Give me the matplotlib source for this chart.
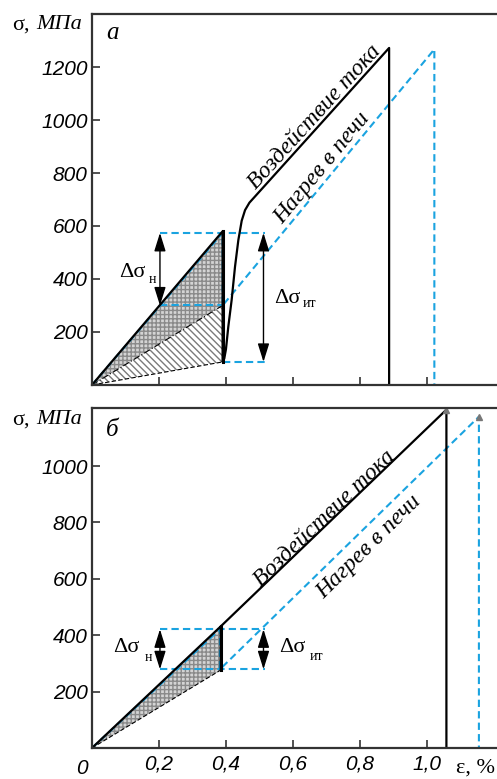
import numpy as np
import matplotlib.pyplot as plt

# --- panel a data ---
eps_cur_a = [0, 0.39, 0.39, 0.395, 0.40, 0.407, 0.417, 0.427, 0.437, 0.447, 0.457, 0.47, 0.887, 0.887]
sig_cur_a = [0, 580, 87, 100, 135, 220, 321, 446, 547, 620, 660, 688, 1272, 0]
eps_oven_a = [0, 0.39, 0.39, 1.022, 1.022]
sig_oven_a = [0, 574, 300, 1267, 0]
tri_up_a = ([0, 0.39, 0.39], [0, 580, 300])
tri_lo_a = ([0, 0.39, 0.39], [0, 300, 87])
dsn_a = (0.203, 300, 574)      # x, low, high
dsit_a = (0.512, 87, 574)

# --- panel b data ---
eps_cur_b = [0, 0.385, 0.385, 0.385, 1.058, 1.058]
sig_cur_b = [0, 432, 277, 432, 1200, 0]
eps_oven_b = [0, 0.382, 0.382, 1.155, 1.155]
sig_oven_b = [0, 421, 279, 1175, 0]
tri_b = ([0, 0.385, 0.385], [0, 432, 277])
dsn_b = (0.203, 279, 421)
dsit_b = (0.512, 279, 421)

xticks = [0, 0.2, 0.4, 0.6, 0.8, 1.0]
xticklabels = ['0', '0,2', '0,4', '0,6', '0,8', '1,0']
yticks_a = [200, 400, 600, 800, 1000, 1200]
yticks_b = [200, 400, 600, 800, 1000]

blue = '#1aa3e0'
serif = 'Liberation Serif'
sans = 'Liberation Sans'

fig = plt.figure(figsize=(4.97, 7.79), dpi=100)
ax1 = fig.add_axes([0.185, 0.5058, 0.815, 0.4762])
ax2 = fig.add_axes([0.185, 0.0398, 0.815, 0.4365])


def style(ax, ylim, yticks, showx):
    ax.set_xlim(0, 1.209)
    ax.set_ylim(0, ylim)
    ax.spines['right'].set_visible(False)
    for s in ['left', 'bottom', 'top']:
        ax.spines[s].set_linewidth(1.6)
        ax.spines[s].set_color('#333333')
    ax.set_xticks(xticks[1:])
    ax.set_yticks(yticks)
    ax.tick_params(direction='in', length=6, width=1.2, color='#333333')
    ax.set_yticklabels([str(v) for v in yticks], fontsize=15, fontstyle='italic',
                       family=sans)
    ax.tick_params(axis='y', pad=3)
    if showx:
        ax.set_xticklabels(xticklabels[1:], fontsize=15, fontstyle='italic', family=sans)
        ax.tick_params(axis='x', pad=5)
    else:
        ax.set_xticklabels([])


def dsig(ax, spec, tx, ty, sub, sx, sy):
    x, lo, hi = spec
    ax.annotate('', xy=(x, hi), xytext=(x, lo),
                arrowprops=dict(arrowstyle='<|-|>,head_length=0.8,head_width=0.25',
                                color='black', lw=1.0,
                                mutation_scale=14, shrinkA=0, shrinkB=0))
    ax.text(tx, ty, 'Δσ', fontsize=16, family=serif, ha='center', va='center')
    ax.text(sx, sy, sub, fontsize=10, family=serif, ha='center', va='center')


# ---- panel a ----
style(ax1, 1400, yticks_a, False)
ax1.fill(*tri_up_a, facecolor='#d4d4d4', edgecolor='#8a8a8a', hatch='++++', lw=0)
ax1.fill(*tri_lo_a, facecolor='white', edgecolor='#7a7a7a', hatch='\\\\\\\\\\', lw=0)
ax1.plot([0, 0.39], [0, 300], color='black', lw=0.8, ls=(0, (6, 2, 1, 2)))
ax1.plot([0, 0.39], [0, 87], color='black', lw=0.8, ls=(0, (4, 2)))
ax1.plot(eps_oven_a, sig_oven_a, color=blue, lw=1.5, ls=(0, (3.5, 2)))
ax1.plot([0.203, 0.516], [574, 574], color=blue, lw=1.5, ls=(0, (3.5, 2)))
ax1.plot([0.203, 0.39], [300, 300], color=blue, lw=1.5, ls=(0, (3.5, 2)))
ax1.plot([0.39, 0.516], [87, 87], color=blue, lw=1.5, ls=(0, (3.5, 2)))
ax1.plot(eps_cur_a, sig_cur_a, color='black', lw=1.6)
ax1.plot([0.39, 0.39], [87, 580], color='black', lw=2.2)
dsig(ax1, dsn_a, 0.119, 426, 'н', 0.181, 398)
dsig(ax1, dsit_a, 0.582, 328, 'ит', 0.648, 306)
ax1.text(0.665, 1010, 'Воздействие тока', rotation=47.8, fontsize=17, family=serif,
         fontstyle='italic', ha='center', va='center', rotation_mode='anchor')
ax1.text(0.688, 820, 'Нагрев в печи', rotation=50.4, fontsize=17, family=serif,
         fontstyle='italic', ha='center', va='center', rotation_mode='anchor')
ax1.text(0.05, 0.949, 'а', transform=ax1.transAxes, fontsize=18, family=serif,
         fontstyle='italic', ha='center', va='center')

# ---- panel b ----
style(ax2, 1206, yticks_b, True)
ax2.fill(*tri_b, facecolor='#d4d4d4', edgecolor='#8a8a8a', hatch='++++', lw=0)
ax2.plot([0, 0.385], [0, 277], color='black', lw=0.8, ls=(0, (4, 2)))
ax2.plot(eps_oven_b, sig_oven_b, color=blue, lw=1.5, ls=(0, (3.5, 2)))
ax2.plot([0.203, 0.516], [421, 421], color=blue, lw=1.5, ls=(0, (3.5, 2)))
ax2.plot([0.203, 0.516], [279, 279], color=blue, lw=1.5, ls=(0, (3.5, 2)))
ax2.plot(eps_cur_b, sig_cur_b, color='black', lw=1.6)
ax2.plot([0.385, 0.385], [277, 432], color='black', lw=2.2)
ax2.plot([1.058, 1.155], [1200, 1175], ls='none', marker='^', ms=4, color='#777777')
dsig(ax2, dsn_b, 0.104, 355, 'н', 0.170, 320)
dsig(ax2, dsit_b, 0.597, 355, 'ит', 0.669, 326)
ax2.text(0.693, 816, 'Воздействие тока', rotation=43.8, fontsize=17, family=serif,
         fontstyle='italic', ha='center', va='center', rotation_mode='anchor')
ax2.text(0.826, 712, 'Нагрев в печи', rotation=44.7, fontsize=17, family=serif,
         fontstyle='italic', ha='center', va='center', rotation_mode='anchor')
ax2.text(0.05, 0.935, 'б', transform=ax2.transAxes, fontsize=18, family=serif,
         fontstyle='italic', ha='center', va='center')

# axis titles
for yy in (0.968, 0.461):
    fig.text(0.024, yy, 'σ,', fontsize=16, family=serif, ha='left', va='center')
    fig.text(0.073, yy, 'МПа', fontsize=16, family=serif, fontstyle='italic',
             ha='left', va='center')
fig.text(0.165, 0.014, '0', fontsize=15, family=sans, fontstyle='italic',
         ha='center', va='center')
fig.text(0.996, 0.014, 'ε, %', fontsize=16, family=serif, ha='right', va='center')

fig.savefig('out.png', dpi=100)
